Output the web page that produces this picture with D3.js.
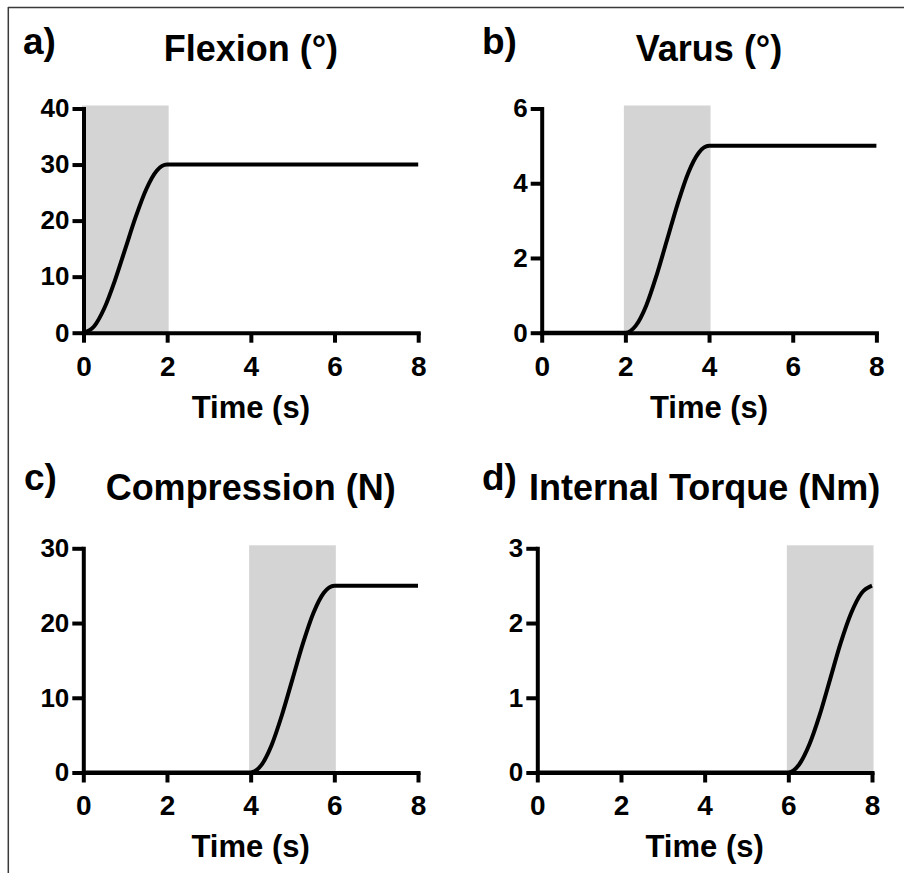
<!DOCTYPE html>
<html>
<head>
<meta charset="utf-8">
<script src="https://cdn.jsdelivr.net/npm/d3@7"></script>
<style>
  body { margin: 0; background: #fff; }
  svg { display: block; font-family: "Liberation Sans", Arial, sans-serif; font-weight: bold; }
</style>
</head>
<body>
<svg id="chart" width="904" height="873"></svg>
<script>
// values
const timeTicks = [0, 2, 4, 6, 8]

const flexionT = [0, 0.25, 0.5, 0.75, 1, 1.25, 1.5, 1.75, 2, 8]
const flexionV = [0, 1.1, 4.4, 9.3, 15, 20.7, 25.6, 28.9, 30, 30]
const flexionTicks = [0, 10, 20, 30, 40]

const varusT = [0, 2, 2.25, 2.5, 2.75, 3, 3.25, 3.5, 3.75, 4, 8]
const varusV = [0, 0, 0.19, 0.73, 1.55, 2.5, 3.45, 4.27, 4.81, 5, 5]
const varusTicks = [0, 2, 4, 6]

const compressionT = [0, 4, 4.25, 4.5, 4.75, 5, 5.25, 5.5, 5.75, 6, 8]
const compressionV = [0, 0, 0.95, 3.66, 7.73, 12.5, 17.27, 21.34, 24.05, 25, 25]
const compressionTicks = [0, 10, 20, 30]

const torqueT = [0, 6, 6.25, 6.5, 6.75, 7, 7.25, 7.5, 7.75, 8]
const torqueV = [0, 0, 0.1, 0.37, 0.77, 1.25, 1.73, 2.13, 2.4, 2.5]
const torqueTicks = [0, 1, 2, 3]

const letters = ["a)", "b)", "c)", "d)"]
const titles = ["Flexion (°)", "Varus (°)", "Compression (N)", "Internal Torque (Nm)"]
const shades = [[0, 2], [2, 4], [4, 6], [6, 8]]

let panels = [
  { t: flexionT, v: flexionV, ticks: flexionTicks, left: 83.5, top: 108.5, lx: 23, ly: 54 },
  { t: varusT, v: varusV, ticks: varusTicks, left: 541.7, top: 108.5, lx: 482, ly: 54 },
  { t: compressionT, v: compressionV, ticks: compressionTicks, left: 83.3, top: 548.3, lx: 24, ly: 490 },
  { t: torqueT, v: torqueV, ticks: torqueTicks, left: 537.3, top: 548.3, lx: 482, ly: 490 }
]
const pw = 334.7
const ph = 224.2

let svg = d3.select("#chart")

// frame lines (top and left only, as in the picture)
svg.append("line")
  .attr("x1", 8).attr("x2", 904).attr("y1", 7.5).attr("y2", 7.5)
  .attr("stroke", "#3a3a3a").attr("stroke-width", 1.5)
svg.append("line")
  .attr("x1", 8.3).attr("x2", 8.3).attr("y1", 7).attr("y2", 873)
  .attr("stroke", "#3a3a3a").attr("stroke-width", 1.5)

panels.forEach((p, i) => {
  let g = svg.append("g").attr("transform", `translate(${p.left}, ${p.top})`)
  let x = d3.scaleLinear().domain([0, 8]).range([0, pw])
  let y = d3.scaleLinear().domain([0, d3.max(p.ticks)]).range([ph, 0])

  // shaded interval
  g.append("rect")
    .attr("x", x(shades[i][0]) - 1.5)
    .attr("width", x(shades[i][1]) - x(shades[i][0]) + 3)
    .attr("y", y(d3.max(p.ticks)) - 3)
    .attr("height", ph + 3)
    .attr("fill", "#d4d4d4")

  let line = d3.line()
    .x(d => x(d[0]))
    .y(d => y(d[1]))
    .curve(d3.curveMonotoneX)
  g.append("path")
    .datum(p.t.map((t, k) => [t, p.v[k]]))
    .attr("d", line)
    .attr("fill", "none")
    .attr("stroke", "#000")
    .attr("stroke-width", 4)

  let xAxis = g.append("g")
    .attr("transform", `translate(0, ${ph})`)
    .call(d3.axisBottom(x).tickValues(timeTicks).tickFormat(d3.format("d"))
      .tickSize(10).tickSizeOuter(0).tickPadding(13))
  let yAxis = g.append("g")
    .call(d3.axisLeft(y).tickValues(p.ticks).tickFormat(d3.format("d"))
      .tickSize(11).tickSizeOuter(0).tickPadding(3))

  ;[xAxis, yAxis].forEach(a => {
    a.attr("font-family", null)
    a.select(".domain").attr("stroke", "#000").attr("stroke-width", 4).attr("stroke-linecap", "square")
    a.selectAll(".tick line").attr("stroke", "#000").attr("stroke-width", 4)
    a.selectAll("text").attr("fill", "#000")
  })
  xAxis.attr("font-size", 28)
  yAxis.attr("font-size", 26)

  g.append("text")
    .attr("x", pw / 2)
    .attr("y", -48)
    .attr("text-anchor", "middle")
    .style("font-size", "36px")
    .text(titles[i])

  g.append("text")
    .attr("x", pw / 2)
    .attr("y", ph + 85)
    .attr("text-anchor", "middle")
    .style("font-size", "31px")
    .text("Time (s)")

  svg.append("text")
    .attr("x", p.lx)
    .attr("y", p.ly)
    .style("font-size", "37px")
    .text(letters[i])
})
</script>
</body>
</html>
